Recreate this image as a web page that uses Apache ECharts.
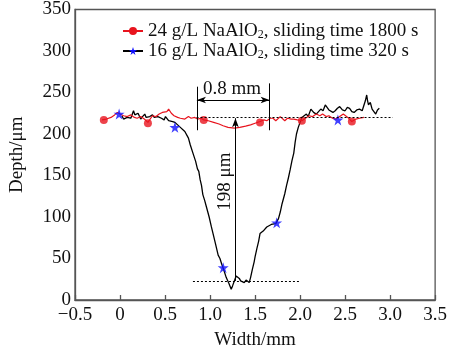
<!DOCTYPE html>
<html><head><meta charset="utf-8">
<script src="https://cdn.jsdelivr.net/npm/echarts@6/dist/echarts.min.js"></script>
<style>html,body{margin:0;padding:0;background:#fff}#c{width:450px;height:355px}</style>
</head><body><div id="c"></div>
<script>
// ---- data ----
const seriesNames = ['24 g/L NaAlO2, sliding time 1800 s', '16 g/L NaAlO2, sliding time 320 s'];
const xAxisTitle = 'Width/mm';
const yAxisTitle = 'Depth/μm';

const blackX = [0.02,0.04,0.06,0.08,0.10,0.12,0.15,0.165,0.18,0.20,0.23,0.25,0.275,0.29,0.31,0.33,0.36,0.38,0.40,0.42,0.435,0.46,0.49,0.505,0.52,0.54,0.56,0.585,0.61,0.64,0.67,
 0.72,0.76,0.78,0.81,0.84,0.86,0.875,0.89,0.905,0.92,0.94,0.96,0.975,0.99,1.015,1.04,1.06,1.09,1.11,1.13,1.15,1.18,1.21,1.235,1.25,1.27,1.29,1.31,1.325,1.34,1.36,1.38,1.40,1.42,1.435,1.45,1.47,1.49,1.50,1.52,1.54,1.555,1.57,1.59,1.61,1.63,1.65,1.68,1.70,1.73,1.76,1.78,1.80,1.83,1.85,1.87,1.89,1.91,1.93,1.945,1.96,1.98,2.00,2.02,
 2.04,2.07,2.09,2.12,2.15,2.18,2.205,2.23,2.255,2.28,2.30,2.32,2.34,2.365,2.39,2.415,2.44,2.47,2.50,2.525,2.55,2.575,2.60,2.63,2.66,2.69,2.71,2.725,2.74,2.75,2.76,2.78,2.80,2.82,2.84,2.86,2.88];
const blackY = [222,218,216,220,222,219,228,223,222,225,218,221,224,220,219,221,223,220,218,221,222,219,217,221,220,216,218,215,214,211,208,
 203,195,187,177,167,158,155,145,138,127,120,112,106,100,88,77,68,54,50,43,37,27,20,13,17,19,29,31,26,23,25,21,24,23,21,27,37,46,52,62,71,80,78,83,81,88,86,91,89,92,98,106,116,128,138,147,157,168,177,190,200,208,214,220,
 218,224,221,230,226,224,227,230,228,235,233,229,231,226,228,231,233,229,228,232,231,227,226,229,230,228,235,240,247,240,235,238,230,227,224,229,231];

const redX = [-0.20,-0.15,-0.10,-0.06,-0.03,0.00,0.04,0.08,0.12,0.16,0.19,0.23,0.27,0.31,0.36,0.40,0.435,0.47,0.49,0.52,0.54,0.57,0.60,0.64,0.67,0.72,0.76,0.79,0.83,0.86,0.90,0.93,
 0.98,1.04,1.10,1.145,1.20,1.27,1.33,1.395,1.45,1.50,1.555,1.60,1.63,1.67,1.70,1.73,1.75,1.78,1.80,1.83,1.86,1.90,1.93,1.97,2.02,2.06,2.10,2.14,2.18,2.22,2.25,2.29,2.32,2.36,2.40,2.44,2.48,2.53,2.575,2.62,2.66,2.71];
const redY = [217,218,220,223,226,224,222,221,223,220,219,221,218,214,222,221,224,226,228,227,230,225,222,220,219,218,221,219,220,218,219,217,
 216,214,212,210,208,207,208,209.5,211,213,215,217,216,219,219,216,217,221,219,216,219,218,218,217,216,219,222,221,224,222,224,221,222,219,218,221,224,220,215,218,219,220];

const redMarkX = [-0.18,0.31,0.93,1.555,2.02,2.575];
const redMarkY = [217,213,217,214,216,215];
const starX = [-0.01,0.61,1.146,1.74,2.42];
const starY = [224,208,39,93,217];

// annotation geometry (data units)
const topLevel = 220, bottomLevel = 23;
const bracketX = [0.854, 1.662];
const arrowX = 1.282;
const annotTexts = ['0.8 mm', '198 μm'];

// ---- chart ----
const zip = (xs, ys) => xs.map((x, i) => [x, ys[i]]);
const FONT = 'Liberation Serif';
const RED = '#e8141e', BLUE = '#1010ff';
const STAR = 'path://M50,0 L61.2,34.5 L97.6,34.5 L68.2,55.9 L79.4,90.5 L50,69.1 L20.6,90.5 L31.8,55.9 L2.4,34.5 L38.8,34.5 Z';

const chart = echarts.init(document.getElementById('c'), null, {renderer: 'canvas'});
const axisLine = {show: true, onZero: false, lineStyle: {color: '#555', width: 1.3}};
const dotted = {color: '#000', width: 1, type: [2, 2]};
const solid = {color: '#000', width: 1, type: 'solid'};

const option = {
  animation: false,
  backgroundColor: '#fff',
  grid: {left: 64, right: 11, top: 4, bottom: 48, show: true, borderColor: '#555', borderWidth: 1.3, containLabel: false},
  legend: {
    orient: 'vertical', left: 117, top: 16, itemWidth: 20, itemHeight: 10, itemGap: 0,
    data: seriesNames,
    textStyle: {fontFamily: FONT, fontSize: 19, color: '#111', lineHeight: 18,
      rich: {sub: {fontFamily: FONT, fontSize: 12, color: '#111', padding: [8, 0, 0, 0], lineHeight: 10}}},
    formatter: n => n.replace('NaAlO2', 'NaAlO{sub|2}')
  },
  xAxis: {
    type: 'value', min: -0.5, max: 3.5, interval: 0.5,
    name: xAxisTitle, nameLocation: 'middle', nameGap: 31,
    nameTextStyle: {fontFamily: FONT, fontSize: 19, color: '#111'},
    axisLine, splitLine: {show: false},
    axisTick: {show: true, inside: true, length: 5, lineStyle: {color: '#555', width: 1.3}},
    axisLabel: {fontFamily: FONT, fontSize: 19, color: '#111', margin: 6,
      formatter: v => v === 0 ? '0' : v.toFixed(1).replace('-', '−')}
  },
  yAxis: {
    type: 'value', min: 0, max: 350, interval: 50,
    name: yAxisTitle, nameLocation: 'middle', nameGap: 48,
    nameTextStyle: {fontFamily: FONT, fontSize: 19, color: '#111'},
    axisLine, splitLine: {show: false},
    axisTick: {show: false},
    axisLabel: {fontFamily: FONT, fontSize: 19, color: '#111', margin: 4}
  },
  series: [
    {name: seriesNames[0], type: 'line', data: zip(redX, redY), symbol: 'circle', showSymbol: false,
     lineStyle: {color: RED, width: 1.2}, itemStyle: {color: RED}, z: 3},
    {name: seriesNames[1], type: 'line', data: zip(blackX, blackY), symbol: STAR, showSymbol: false,
     lineStyle: {color: '#000', width: 1.3}, itemStyle: {color: BLUE}, z: 2},
    {name: 'redMarks', type: 'scatter', data: zip(redMarkX, redMarkY), symbol: 'circle', symbolSize: 8,
     itemStyle: {color: RED}, z: 4, silent: true},
    {name: 'stars', type: 'scatter', data: zip(starX, starY), symbol: STAR, symbolSize: 11,
     itemStyle: {color: BLUE}, z: 4, silent: true},
    {name: 'annot', type: 'line', data: [], silent: true,
     markLine: {silent: true, symbol: 'none', label: {show: false}, animation: false,
       data: [
         [{coord: [0.85, topLevel], lineStyle: dotted}, {coord: [3.03, topLevel]}],
         [{coord: [0.81, bottomLevel], lineStyle: dotted}, {coord: [2.0, bottomLevel]}],
         [{coord: [bracketX[0], 204.5], lineStyle: solid}, {coord: [bracketX[0], 257]}],
         [{coord: [bracketX[1], 204.5], lineStyle: solid}, {coord: [bracketX[1], 261]}],
         [{coord: [bracketX[0], 241], lineStyle: solid, symbol: 'arrow', symbolSize: [5, 9]}, {coord: [bracketX[1], 241], symbol: 'arrow', symbolSize: [5, 9]}],
         [{coord: [arrowX, bottomLevel], lineStyle: solid, symbol: 'none'}, {coord: [arrowX, 219], symbol: 'arrow', symbolSize: [5, 9]}]
       ]}}
  ]
};
chart.setOption(option);

const p1 = chart.convertToPixel({gridIndex: 0}, [1.244, 254]);
const p2 = chart.convertToPixel({gridIndex: 0}, [1.164, 142.6]);
chart.setOption({graphic: [
  {type: 'text', x: p1[0], y: p1[1], style: {text: annotTexts[0], fontFamily: FONT, fontSize: 19, fill: '#111', align: 'center', verticalAlign: 'middle'}},
  {type: 'text', x: p2[0], y: p2[1], rotation: Math.PI / 2, style: {text: annotTexts[1], fontFamily: FONT, fontSize: 19, fill: '#111', align: 'center', verticalAlign: 'middle'}}
]});
</script></body></html>
